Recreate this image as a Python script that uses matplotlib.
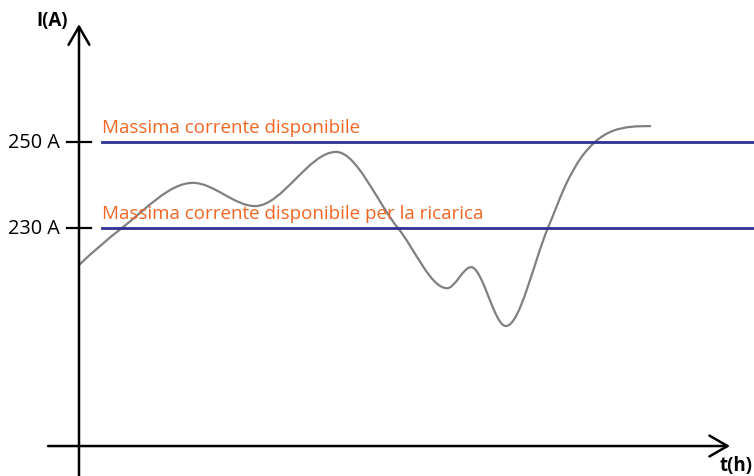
import matplotlib
matplotlib.use("Agg")
import matplotlib.pyplot as plt
from matplotlib.path import Path
from matplotlib.patches import PathPatch

# time (h) and current (A)
t = [0.0, 1.43, 3.8, 5.87, 8.57, 10.63, 12.27, 13.07, 14.23, 15.63, 16.27,
     16.7, 17.2, 17.8, 19.07]
current = [221.4, 230.0, 240.5, 235.1, 247.7, 230.0, 216.0, 220.9, 207.2,
           230.0, 240.7, 246.0, 250.0, 252.6, 253.7]

levels = [250, 230]
level_ticks = ["250 A", "230 A"]
level_labels = ["Massima corrente disponibile",
                "Massima corrente disponibile per la ricarica"]

BLUE = "#2e3192"
ORANGE = "#f26522"
FONT = "Open Sans"

fig = plt.figure(figsize=(7.54, 4.77), dpi=100)
ax = fig.add_axes([0, 0, 1, 1])
ax.set_xlim(-2.633, 22.5)
ax.set_ylim(172.33, 283.26)
ax.axis("off")

# axes with open arrow heads
t0, i0 = 0.0, 179.3
arrow = dict(arrowstyle="->,head_length=13,head_width=7.5", lw=1.8,
             color="black", mutation_scale=1, shrinkA=0, shrinkB=0)
ax.annotate("", xy=(21.7, i0), xytext=(-1.03, i0), arrowprops=arrow)
ax.annotate("", xy=(t0, 277.4), xytext=(t0, 172.3), arrowprops=arrow)
ax.text(-0.37, 278.4, "I(A)", fontsize=13.5, fontweight="bold", family=FONT,
        ha="right", va="center")
ax.text(22.47, 172.6, "t(h)", fontsize=13.5, fontweight="bold", family=FONT,
        ha="right", va="bottom")

for lev, tick, lab in zip(levels, level_ticks, level_labels):
    ax.plot([-0.4, 0.4], [lev, lev], color="black", lw=1.6)
    ax.text(-0.63, lev, tick, fontsize=14.3, family=FONT, ha="right",
            va="center")
    ax.plot([0.77, 22.5], [lev, lev], color=BLUE, lw=2)
    ax.text(0.77, lev + 2.4, lab, fontsize=13.5, family=FONT, color=ORANGE,
            ha="left", va="baseline")

# smooth cubic through the read points (Bessel tangents, flat at extrema),
# drawn as Bezier segments
n = len(t)
h = [t[k + 1] - t[k] for k in range(n - 1)]
d = [(current[k + 1] - current[k]) / h[k] for k in range(n - 1)]
m = [0.0] * n
for k in range(1, n - 1):
    if d[k - 1] * d[k] > 0:
        m[k] = (h[k] * d[k - 1] + h[k - 1] * d[k]) / (h[k - 1] + h[k])
m[0] = ((2 * h[0] + h[1]) * d[0] - h[0] * d[1]) / (h[0] + h[1])
m[-1] = 0.0
for k in range(n - 1):
    a, b = m[k] / d[k], m[k + 1] / d[k]
    r = (a * a + b * b) ** 0.5
    if r > 3:
        m[k] *= 3 / r
        m[k + 1] *= 3 / r

verts = [(t[0], current[0])]
codes = [Path.MOVETO]
for k in range(n - 1):
    verts += [(t[k] + h[k] / 3, current[k] + m[k] * h[k] / 3),
              (t[k + 1] - h[k] / 3, current[k + 1] - m[k + 1] * h[k] / 3),
              (t[k + 1], current[k + 1])]
    codes += [Path.CURVE4] * 3
ax.add_patch(PathPatch(Path(verts, codes), facecolor="none",
                       edgecolor="#808080", lw=1.6))

fig.savefig("out.png", dpi=100)
